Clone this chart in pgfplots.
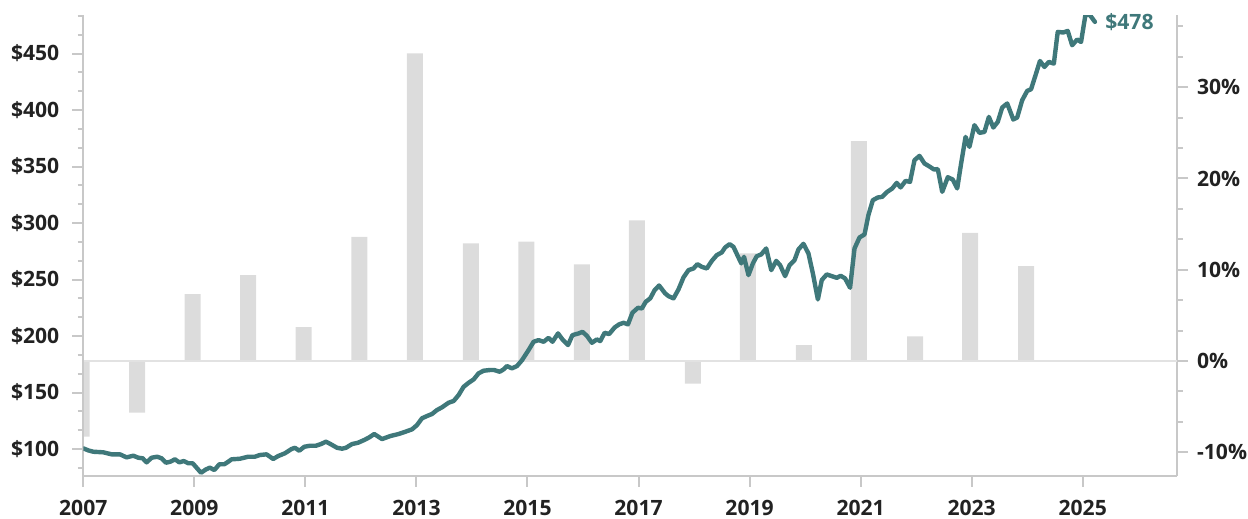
\documentclass[border=0pt]{standalone}
\usepackage{fontspec}
\setmainfont{Open Sans}
\usepackage{pgfplots}
\pgfplotsset{compat=1.18}
\definecolor{teal1}{HTML}{3F787A}
\definecolor{bargray}{HTML}{DCDCDC}
\definecolor{axgray}{HTML}{C8C8C8}
\definecolor{zerogray}{HTML}{E2E2E2}
\definecolor{txt}{HTML}{222222}
\begin{document}
\begin{tikzpicture}
\pgfplotsset{
  common/.style={
    at={(0,0)}, anchor=south west, scale only axis,
    width=546.9bp, height=230.3bp,
    xmin=2007, xmax=2026.7,
    tick align=outside,
    major tick length=5.5bp, minor tick length=2.8bp,
    every tick/.style={axgray, line width=1bp},
    every minor tick/.style={axgray, line width=1bp},
    axis line style={axgray, line width=1bp},
    tick label style={font=\fontsize{10.6}{12}\selectfont\bfseries, text=txt},
    /pgf/number format/assume math mode=true,
    clip mode=individual,
  }
}
% bars, right axis
\begin{axis}[common,
  axis y line*=right, axis x line=none,
  ymin=-12.56, ymax=37.9,
  ytick={-10,0,10,20,30},
  yticklabels={-10\%,0\%,10\%,20\%,30\%},
  minor ytick={-6.667,-3.333,3.333,6.667,13.333,16.667,23.333,26.667,33.333,36.667},
  yticklabel style={xshift=1bp},
]
\addplot[ybar, bar width=8bp, fill=bargray, draw=none] coordinates {
(2006.97,-8.29) (2007.97,-5.66) (2008.97,7.34) (2009.97,9.42) (2010.97,3.72)
(2011.97,13.6) (2012.97,33.7) (2013.98,12.9) (2014.98,13.07) (2015.98,10.6)
(2016.97,15.4) (2017.98,-2.48) (2018.97,11.8) (2019.98,1.75) (2020.97,24.1)
(2021.98,2.7) (2022.97,14.05) (2023.98,10.4)
};
\draw[zerogray, line width=1bp] (axis cs:2007,0) -- (axis cs:2026.7,0);
\end{axis}
% line, left axis
\begin{axis}[common,
  axis y line*=left, axis x line*=bottom,
  ymin=76.4, ymax=484,
  ytick={100,150,200,250,300,350,400,450},
  yticklabels={\$100,\$150,\$200,\$250,\$300,\$350,\$400,\$450},
  minor ytick={83.333,116.667,133.333,166.667,183.333,216.667,233.333,266.667,283.333,316.667,333.333,366.667,383.333,416.667,433.333,466.667,483.333},
  xtick={2007,2009,2011,2013,2015,2017,2019,2021,2023,2025},
  xticklabels={2007,2009,2011,2013,2015,2017,2019,2021,2023,2025},
  yticklabel style={xshift=-3bp},
  xticklabel style={yshift=-3bp},
]
\addplot[teal1, line width=2.2bp, line join=round, line cap=round] coordinates {
(2007.00,100.6) (2007.09,98.8) (2007.18,97.6) (2007.36,97.1) (2007.51,95.3)
(2007.66,95.3) (2007.78,92.6) (2007.90,94.1) (2007.99,92.3) (2008.07,91.8)
(2008.14,88.2) (2008.23,92.3) (2008.33,93.2) (2008.41,91.8) (2008.49,87.9)
(2008.57,88.8) (2008.65,90.9) (2008.73,88.2) (2008.81,89.4) (2008.89,87.4)
(2008.97,87.4) (2009.04,83.5) (2009.12,79.0) (2009.21,82.0) (2009.28,83.5)
(2009.36,81.4) (2009.45,86.5) (2009.54,86.5) (2009.63,89.4) (2009.67,90.9)
(2009.82,91.4) (2009.97,93.2) (2010.09,93.2) (2010.18,94.7) (2010.30,95.3)
(2010.42,91.2) (2010.51,93.8) (2010.63,96.2) (2010.75,100.0) (2010.81,101.1)
(2010.89,98.5) (2010.98,102.0) (2011.08,102.9) (2011.19,102.9) (2011.28,104.4)
(2011.37,106.5) (2011.46,104.2) (2011.57,101.1) (2011.66,100.3) (2011.73,101.1)
(2011.84,104.4) (2011.95,105.6) (2012.06,108.0) (2012.15,110.3) (2012.24,113.3)
(2012.38,108.8) (2012.53,111.5) (2012.68,113.3) (2012.80,115.3) (2012.92,117.4)
(2013.01,121.2) (2013.10,127.2) (2013.19,129.2) (2013.28,131.0) (2013.37,134.5)
(2013.46,136.9) (2013.58,141.0) (2013.67,142.5) (2013.76,147.8) (2013.85,155.1)
(2013.94,158.6) (2014.03,161.6) (2014.12,167.0) (2014.21,169.3) (2014.32,169.9)
(2014.40,169.9) (2014.50,168.4) (2014.57,170.5) (2014.63,173.4) (2014.72,171.4)
(2014.81,173.4) (2014.90,178.5) (2015.02,187.6) (2015.11,194.9) (2015.20,196.4)
(2015.29,194.9) (2015.38,198.4) (2015.45,194.9) (2015.55,202.3) (2015.63,197.0)
(2015.73,192.0) (2015.81,200.8) (2015.92,202.3) (2015.99,203.7) (2016.07,200.2)
(2016.16,194.0) (2016.25,197.0) (2016.31,195.5) (2016.39,202.9) (2016.47,201.7)
(2016.57,207.6) (2016.65,210.3) (2016.73,211.7) (2016.81,210.3) (2016.89,220.6)
(2016.99,225.0) (2017.06,224.4) (2017.13,230.3) (2017.21,233.3) (2017.29,240.6)
(2017.37,244.7) (2017.48,237.7) (2017.54,235.3) (2017.63,233.3) (2017.72,241.3)
(2017.81,251.9) (2017.90,258.3) (2017.99,259.8) (2018.06,263.6) (2018.14,261.2)
(2018.23,259.8) (2018.32,266.5) (2018.41,271.6) (2018.50,274.0) (2018.56,278.4)
(2018.64,281.3) (2018.71,278.9) (2018.78,271.6) (2018.85,264.3) (2018.90,270.1)
(2018.98,253.9) (2019.06,264.3) (2019.13,270.7) (2019.21,272.2) (2019.30,277.5)
(2019.39,258.3) (2019.48,266.5) (2019.55,262.7) (2019.64,253.0) (2019.72,262.7)
(2019.81,267.2) (2019.88,276.6) (2019.97,281.6) (2020.06,273.1) (2020.14,255.4)
(2020.23,232.4) (2020.30,249.5) (2020.39,254.5) (2020.48,253.0) (2020.57,251.5)
(2020.64,253.3) (2020.72,251.0) (2020.81,242.7) (2020.89,277.5) (2020.98,287.2)
(2021.07,289.9) (2021.14,307.0) (2021.22,320.2) (2021.31,322.6) (2021.39,323.2)
(2021.48,327.6) (2021.57,330.6) (2021.65,335.5) (2021.72,331.5) (2021.81,337.3)
(2021.89,336.4) (2021.97,355.6) (2022.06,359.4) (2022.15,352.7) (2022.25,349.7)
(2022.32,347.4) (2022.39,347.7) (2022.47,327.6) (2022.57,340.5) (2022.66,338.5)
(2022.74,330.6) (2022.81,352.7) (2022.89,376.2) (2022.96,367.4) (2023.05,386.6)
(2023.14,379.8) (2023.23,380.6) (2023.31,393.9) (2023.39,384.5) (2023.47,389.5)
(2023.55,402.2) (2023.64,405.8) (2023.75,391.6) (2023.82,393.4) (2023.91,408.7)
(2024.00,416.9) (2024.07,418.4) (2024.15,430.8) (2024.23,443.4) (2024.31,438.1)
(2024.39,442.6) (2024.48,441.1) (2024.55,469.1) (2024.65,468.6) (2024.73,470.0)
(2024.81,457.3) (2024.90,462.4) (2024.97,460.2) (2025.05,484.5) (2025.13,484.0)
(2025.22,478.0)
};
\node[anchor=west, inner sep=0pt, xshift=5bp, text=teal1, font=\fontsize{10.6}{12}\selectfont\bfseries] at (axis cs:2025.22,478) {\$478};
\end{axis}
\pgfresetboundingbox
\path (-41.65bp,-21.65bp) rectangle (582.35bp,237.85bp);
\end{tikzpicture}
\end{document}
